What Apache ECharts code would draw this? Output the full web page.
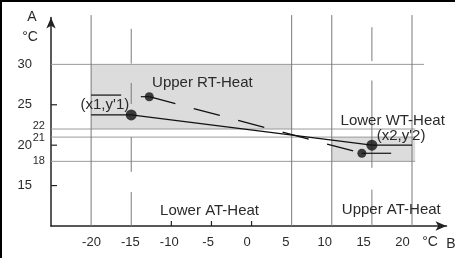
<!DOCTYPE html>
<html>
<head>
<meta charset="utf-8">
<script src="https://cdn.jsdelivr.net/npm/echarts@6/dist/echarts.min.js"></script>
<style>
  html, body { margin: 0; padding: 0; background: #fff; }
  #chart { width: 455px; height: 258px; }
</style>
</head>
<body>
<div id="chart"></div>
<script>
// axis labels
const xLabels = [-20, -15, -10, -5, 0, 5, 10, 15, 20];
const yLabels = [15, 20, 25, 30];
const xTickMarks = [-10, -5, 0];
const yTickMarks = [15, 20, 25];

// regions [x1, y1, x2, y2]
const boxes = [
  [-20, 22, 5, 30],
  [10, 18, 20.4, 21]
];

// reference lines [x1, y1, x2, y2]
const vGrid = [
  [-20, 10, -20, 36.1],
  [5, 10, 5, 36.1],
  [10, 10, 10, 36.1],
  [20, 10, 20, 36.1],
  [-15, 34.4, -15, 30.1],
  [-15, 27.7, -15, 25.1],
  [-15, 21.0, -15, 16.7],
  [-15, 14.2, -15, 10],
  [15, 34.6, 15, 30.4],
  [15, 28.0, 15, 17.2],
  [15, 14.5, 15, 10]
];
const hGrid = [
  [-25, 30, 21.5, 30],
  [-25, 22, 20.4, 22],
  [-25, 21, 20.4, 21],
  [-25, 18, 20.4, 18]
];

// heating curves
const solidCurve = [[-20, 23.75], [-15, 23.75], [15, 20], [20, 20]];
const dashedCurve = [[-12.75, 26], [13.75, 19]];
const stubs = [
  [-13.8, 26, -12.75, 26],
  [13.75, 19, 17.4, 19],
  [-20, 26.2, -16.25, 26.2]
];
const bigPoints = [[-15, 23.75], [15, 20]];
const smallPoints = [[-12.75, 26], [13.75, 19]];

const annotations = [
  { text: 'Upper RT-Heat', x: -12.4, y: 27.7, align: 'left' },
  { text: 'Lower WT-Heat', x: 11.1, y: 23.0, align: 'left' },
  { text: "(x1,y'1)", x: -15.25, y: 25.0, align: 'right' },
  { text: "(x2,y'2)", x: 15.6, y: 21.1, align: 'left' },
  { text: 'Lower AT-Heat', x: -11.4, y: 11.9, align: 'left' },
  { text: 'Upper AT-Heat', x: 11.25, y: 11.95, align: 'left' }
];
const minorLabels = [
  { text: '22', x: -25.75, y: 22.4 },
  { text: '21', x: -25.75, y: 20.9 },
  { text: '18', x: -25.75, y: 18.1 }
];

const FONT = 'Liberation Sans, Arial, sans-serif';
const INK = '#2a2a2a';

function segSeries(segs, style, z) {
  return {
    type: 'custom',
    silent: true,
    z: z,
    data: segs,
    encode: { x: [0, 2], y: [1, 3] },
    renderItem: function (params, api) {
      const p1 = api.coord([api.value(0), api.value(1)]);
      const p2 = api.coord([api.value(2), api.value(3)]);
      return {
        type: 'line',
        shape: { x1: p1[0], y1: p1[1], x2: p2[0], y2: p2[1] },
        style: style
      };
    }
  };
}

function textSeries(items, fontSize, z) {
  return {
    type: 'custom',
    silent: true,
    z: z,
    data: items.map(function (a) { return [a.x, a.y]; }),
    renderItem: function (params, api) {
      const a = items[params.dataIndex];
      const p = api.coord([a.x, a.y]);
      return {
        type: 'text',
        x: p[0],
        y: p[1],
        style: {
          text: a.text,
          fill: INK,
          font: fontSize + 'px ' + FONT,
          textAlign: a.align || 'right',
          textVerticalAlign: 'middle'
        }
      };
    }
  };
}

const chart = echarts.init(document.getElementById('chart'), null, { renderer: 'canvas' });

const option = {
  animation: false,
  backgroundColor: '#fff',
  grid: { left: 51, right: 8.5, top: 17.5, bottom: 32 },
  xAxis: [
    {
      type: 'value',
      min: -25,
      max: 24.3,
      interval: 5,
      splitLine: { show: false },
      axisTick: { show: false },
      axisLabel: { show: false },
      axisLine: {
        onZero: false,
        symbol: ['none', 'arrow'],
        symbolSize: [7, 11],
        lineStyle: { color: '#222', width: 1.5 }
      }
    },
    {
      // label row, spaced slightly tighter than the grid like the original drawing
      type: 'value',
      position: 'bottom',
      min: -25.21,
      max: 25.66,
      splitLine: { show: false },
      axisTick: { show: false },
      axisLine: { show: false },
      axisLabel: {
        customValues: xLabels,
        margin: 10,
        fontSize: 13,
        fontFamily: FONT,
        color: INK
      }
    }
  ],
  yAxis: {
    type: 'value',
    min: 10,
    max: 35.8,
    interval: 5,
    splitLine: { show: false },
    axisTick: { show: false },
    axisLine: {
      onZero: false,
      symbol: ['none', 'arrow'],
      symbolSize: [7, 11],
      lineStyle: { color: '#222', width: 1.5 }
    },
    axisLabel: {
      margin: 19,
      fontSize: 13,
      fontFamily: FONT,
      color: INK,
      showMaxLabel: false,
      formatter: function (v) { return yLabels.indexOf(v) >= 0 ? String(v) : ''; }
    }
  },
  graphic: [
    { type: 'line', shape: { x1: 0, y1: 1, x2: 455, y2: 1 }, style: { stroke: '#000', lineWidth: 2 } },
    { type: 'line', shape: { x1: 1, y1: 0, x2: 1, y2: 258 }, style: { stroke: '#000', lineWidth: 2 } },
    { type: 'text', x: 32, y: 17, style: { text: 'A', font: '14px ' + FONT, fill: INK, textAlign: 'center', textVerticalAlign: 'middle' } },
    { type: 'text', x: 30, y: 37, style: { text: '°C', font: '14px ' + FONT, fill: INK, textAlign: 'center', textVerticalAlign: 'middle' } },
    { type: 'text', x: 430, y: 242, style: { text: '°C', font: '14px ' + FONT, fill: INK, textAlign: 'center', textVerticalAlign: 'middle' } },
    { type: 'text', x: 451, y: 244, style: { text: 'B', font: '14px ' + FONT, fill: INK, textAlign: 'center', textVerticalAlign: 'middle' } }
  ],
  series: [
    {
      type: 'custom',
      silent: true,
      z: 1,
      data: boxes,
      encode: { x: [0, 2], y: [1, 3] },
      renderItem: function (params, api) {
        const p1 = api.coord([api.value(0), api.value(3)]);
        const p2 = api.coord([api.value(2), api.value(1)]);
        return {
          type: 'rect',
          shape: { x: p1[0], y: p1[1], width: p2[0] - p1[0], height: p2[1] - p1[1] },
          style: { fill: '#dcdcdc' }
        };
      }
    },
    segSeries(hGrid, { stroke: '#9a9a9a', lineWidth: 1 }, 2),
    segSeries(vGrid, { stroke: '#7a7a7a', lineWidth: 1 }, 2),
    {
      type: 'custom',
      silent: true,
      z: 3,
      data: xTickMarks.map(function (v) { return [v, 10]; }),
      renderItem: function (params, api) {
        const p = api.coord([api.value(0), api.value(1)]);
        return { type: 'line', shape: { x1: p[0], y1: p[1], x2: p[0], y2: p[1] - 5 }, style: { stroke: '#222', lineWidth: 1.2 } };
      }
    },
    {
      type: 'custom',
      silent: true,
      z: 3,
      data: yTickMarks.map(function (v) { return [-25, v]; }),
      renderItem: function (params, api) {
        const p = api.coord([api.value(0), api.value(1)]);
        return { type: 'line', shape: { x1: p[0], y1: p[1], x2: p[0] + 6, y2: p[1] }, style: { stroke: '#222', lineWidth: 1.2 } };
      }
    },
    segSeries(stubs, { stroke: '#111', lineWidth: 1.2 }, 4),
    {
      type: 'line',
      z: 4,
      silent: true,
      data: solidCurve,
      symbol: 'none',
      lineStyle: { color: '#111', width: 1.3 }
    },
    {
      type: 'line',
      z: 4,
      silent: true,
      data: dashedCurve,
      symbol: 'none',
      lineStyle: { color: '#111', width: 1.3, type: [27, 19] }
    },
    {
      type: 'scatter',
      z: 5,
      silent: true,
      data: bigPoints,
      symbolSize: 11,
      itemStyle: { color: '#111' }
    },
    {
      type: 'scatter',
      z: 5,
      silent: true,
      data: smallPoints,
      symbolSize: 9,
      itemStyle: { color: '#111' }
    },
    textSeries(annotations, 15, 6),
    textSeries(minorLabels, 11, 6)
  ]
};

chart.setOption(option);
</script>
</body>
</html>
